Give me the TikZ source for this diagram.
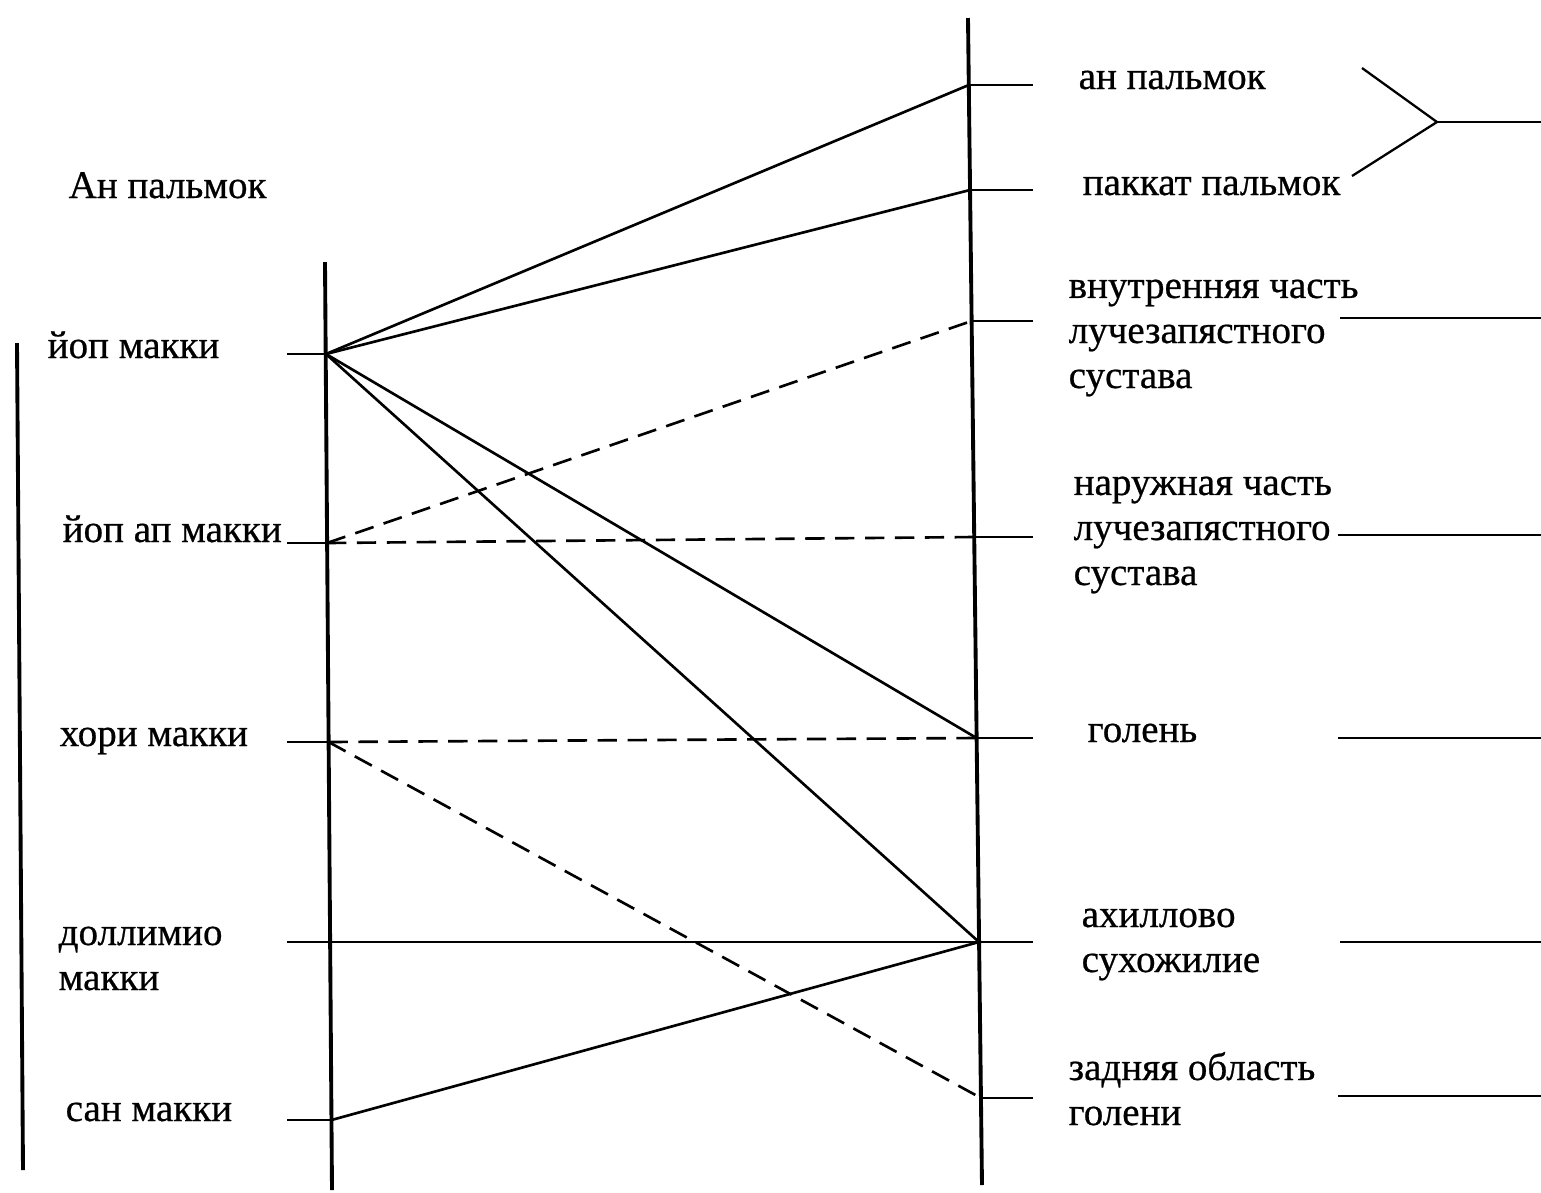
\documentclass[tikz,border=0pt]{standalone}
\usepackage{fontspec}
\setmainfont{Liberation Serif}
\newfontfamily\lblfont{Liberation Serif}[FakeBold=0.6]
\begin{document}
\begin{tikzpicture}[x=0.01cm,y=-0.01cm,
  axisline/.style={line width=1.1pt},
  conn/.style={line width=0.75pt},
  dconn/.style={line width=0.75pt, dash pattern=on 5.5pt off 3pt},
  tickline/.style={line width=0.75pt},
  farline/.style={line width=0.65pt},
  lbl/.style={anchor=base west, inner sep=0pt, font=\lblfont\fontsize{11.1}{12.8}\selectfont, align=left}]
\useasboundingbox (0,0) rectangle (1541,1193);
% axes
\coordinate (aTop) at (17,343);   \coordinate (aBot) at (23,1170);
\coordinate (mTop) at (325,262);  \coordinate (mBot) at (332,1190);
\coordinate (rTop) at (968,18);   \coordinate (rBot) at (982,1185);
\draw[axisline] (aTop) -- (aBot);
\draw[axisline] (mTop) -- (mBot);
\draw[axisline] (rTop) -- (rBot);
% points on middle axis
\coordinate (L1) at (326,354);
\coordinate (L2) at (327,543);
\coordinate (L3) at (328.6,742);
\coordinate (L4) at (330,942);
\coordinate (L5) at (331.5,1120);
% left tick ends
\coordinate (t1) at (287,354);
\coordinate (t2) at (287,543);
\coordinate (t3) at (287,742);
\coordinate (t4) at (287,942);
\coordinate (t5) at (287,1120);
% points on right axis
\coordinate (R1) at (968.8,85);
\coordinate (R2) at (970,190);
\coordinate (R3) at (971.6,321);
\coordinate (R4) at (974.2,537);
\coordinate (R5) at (976.6,738);
\coordinate (R6) at (979,942);
\coordinate (R7) at (981,1098);
% right tick ends
\coordinate (s1) at (1033,85);
\coordinate (s2) at (1033,190);
\coordinate (s3) at (1033,321);
\coordinate (s4) at (1033,537);
\coordinate (s5) at (1033,738);
\coordinate (s6) at (1033,942);
\coordinate (s7) at (1033,1098);
% ticks
\foreach \i in {1,2,3,5}{\draw[tickline] (t\i) -- (L\i);}
\foreach \i in {1,...,7}{\draw[tickline] (R\i) -- (s\i);}
% connectors
\draw[conn] (L1) -- (R1);
\draw[conn] (L1) -- (R2);
\draw[conn] (L1) -- (R5);
\draw[conn] (L1) -- (R6);
\draw[dconn] (L2) -- (R3);
\draw[dconn] (L2) -- (R4);
\draw[dconn] (L3) -- (R5);
\draw[dconn] (L3) -- (R7);
\draw[conn] (t4) -- (R6);
\draw[conn] (L5) -- (R6);
% far right lines
\coordinate (f3a) at (1340,318); \coordinate (f3b) at (1541,318);
\coordinate (f4a) at (1338,535); \coordinate (f4b) at (1541,535);
\coordinate (f5a) at (1338,738); \coordinate (f5b) at (1541,738);
\coordinate (f6a) at (1340,942); \coordinate (f6b) at (1541,942);
\coordinate (f7a) at (1338,1096); \coordinate (f7b) at (1541,1096);
\foreach \i in {3,...,7}{\draw[farline] (f\i a) -- (f\i b);}
% bracket
\coordinate (b1) at (1362,68);
\coordinate (b2) at (1352,176);
\coordinate (bv) at (1437,122);
\coordinate (be) at (1541,122);
\draw[farline] (b1) -- (bv) -- (b2);
\draw[farline] (bv) -- (be);
% labels left (multi-line nodes: base = last line)
\node[lbl] (nAn) at (68,198) {Ан пальмок};
\node[lbl] (nY1) at (47,358) {йоп макки};
\node[lbl] (nY2) at (62,542) {йоп ап макки};
\node[lbl] (nX) at (59,746) {хори макки};
\node[lbl] (nD) at (58,990) {доллимио\\макки};
\node[lbl] (nS) at (65,1121) {сан макки};
% labels right
\node[lbl] (m1) at (1078,89) {ан пальмок};
\node[lbl] (m2) at (1082,195) {паккат пальмок};
\node[lbl] (m3) at (1068,388) {внутренняя часть\\лучезапястного\\сустава};
\node[lbl] (m4) at (1073,585) {наружная часть\\лучезапястного\\сустава};
\node[lbl] (m5) at (1087,742) {голень};
\node[lbl] (m6) at (1081,972) {ахиллово\\сухожилие};
\node[lbl] (m7) at (1068,1125) {задняя область\\голени};
\end{tikzpicture}
\end{document}
